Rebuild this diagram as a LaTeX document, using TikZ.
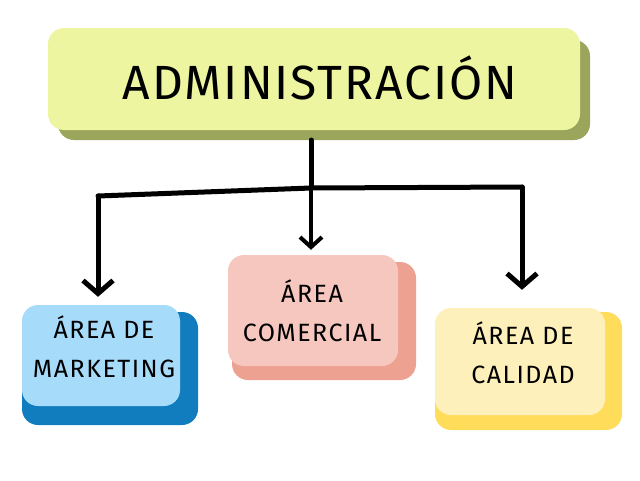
\documentclass[tikz,border=0pt]{standalone}
\usepackage{fontspec}
\newfontfamily\hand[LetterSpace=6]{Fira Sans}
\newfontfamily\handtop[LetterSpace=4]{Fira Sans}
\usetikzlibrary{arrows.meta}
\definecolor{limefront}{RGB}{237,245,160}
\definecolor{limeshadow}{RGB}{155,166,92}
\definecolor{bluefront}{RGB}{166,220,250}
\definecolor{blueshadow}{RGB}{17,124,190}
\definecolor{pinkfront}{RGB}{245,199,190}
\definecolor{pinkshadow}{RGB}{237,161,145}
\definecolor{yelfront}{RGB}{254,240,187}
\definecolor{yelshadow}{RGB}{255,221,90}
\begin{document}
\begin{tikzpicture}[x=1pt,y=-1pt,
  card/.style={rounded corners=16pt, inner sep=0pt, align=center},
  conn/.style={line width=5pt, line cap=round, line join=round},
  arr/.style={conn, -{Straight Barb[length=13pt,width=30pt,line width=5pt]}},
  arrsmall/.style={line width=4pt, line cap=round, -{Straight Barb[length=10pt,width=22pt,line width=4pt]}},
  smalltxt/.style={inner sep=0pt, align=center, font=\hand\fontsize{25}{39}\selectfont}
]
\useasboundingbox (0,0) rectangle (640,480);
% top
\node[card, fill=limeshadow, minimum width=532pt, minimum height=100pt] (tops) at (324,90) {};
\node[card, fill=limefront, minimum width=532pt, minimum height=102pt] (top) at (314,79) {};
\node[inner sep=0pt, font=\handtop\fontsize{48}{52}\selectfont] (topt) at (320,78) {ADMINISTRACIÓN};
% marketing
\node[card, fill=blueshadow, minimum width=176pt, minimum height=113pt] (mks) at (110,368.5) {};
\node[card, fill=bluefront, minimum width=158pt, minimum height=101pt] (mk) at (101,355.5) {};
\node[smalltxt] (mkt) at (104,347) {ÁREA DE\\MARKETING};
% comercial
\node[card, fill=pinkshadow, minimum width=184pt, minimum height=118pt] (coms) at (324,321) {};
\node[card, fill=pinkfront, minimum width=170pt, minimum height=111pt] (com) at (313,310.5) {};
\node[smalltxt] (comt) at (312,311) {ÁREA\\COMERCIAL};
% calidad
\node[card, fill=yelshadow, minimum width=187pt, minimum height=118pt] (cals) at (528.5,371) {};
\node[card, fill=yelfront, minimum width=170pt, minimum height=107pt] (cal) at (520,361.5) {};
\node[smalltxt] (calt) at (523,353) {ÁREA DE\\CALIDAD};
% connectors
\coordinate (t) at (311,140);
\coordinate (j) at (311,188);
\coordinate (jl) at (98,196);
\coordinate (jr) at (522,187);
\draw[conn] (t) -- (j);
\draw[conn] (jl) -- (j) -- (jr);
\draw[arr, shorten >=8pt] (jl) -- (jl |- mk.north);
\draw[arrsmall, shorten >=5pt] (j) -- (j |- com.north);
\draw[arr, shorten >=18pt] (jr) -- (jr |- cal.north);
\end{tikzpicture}
\end{document}
